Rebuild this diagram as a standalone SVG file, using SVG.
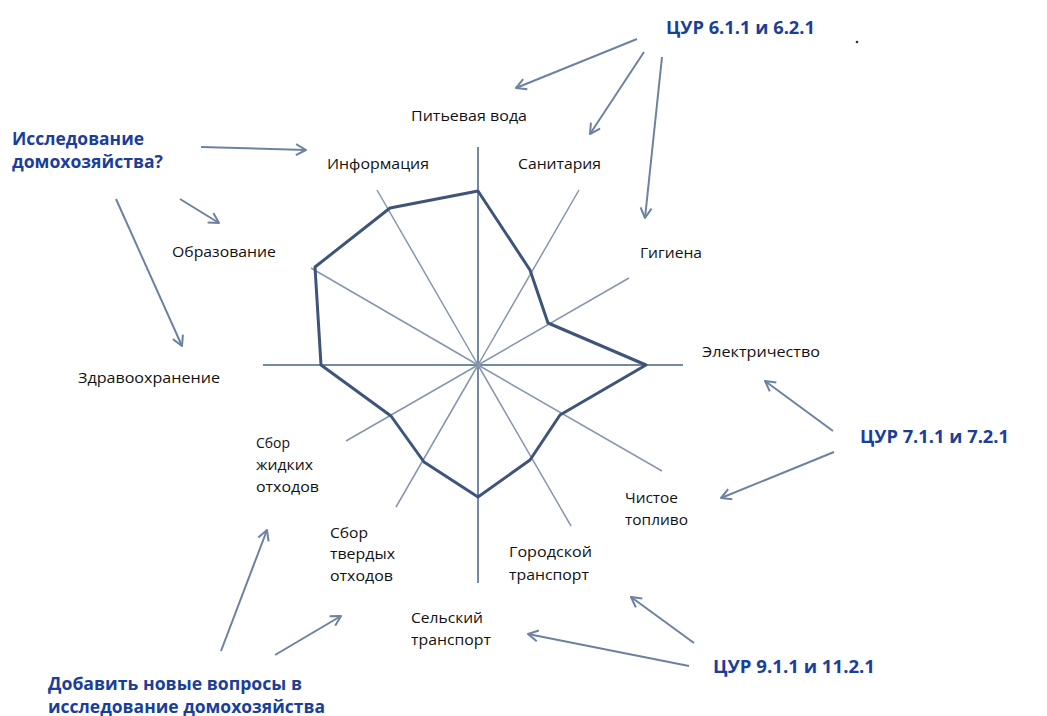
<svg xmlns="http://www.w3.org/2000/svg" width="1047" height="716" viewBox="0 0 1047 716">
<defs>
<style>
.lbl{font-family:"Open Sans","Liberation Sans",sans-serif;font-size:15px;fill:#111}
.blue{font-family:"Open Sans","Liberation Sans",sans-serif;font-size:17px;font-weight:bold;fill:#1a3e9a}
.spoke{stroke:#8596ac;stroke-width:1.5;fill:none}
.axis{stroke:#7489a3;stroke-width:2;fill:none}
.poly{stroke:#3e5479;stroke-width:3;fill:none;stroke-linejoin:round}
.arr{stroke:#6d82a1;stroke-width:2;fill:none;marker-end:url(#ah)}
</style>
<marker id="ah" markerUnits="userSpaceOnUse" viewBox="-12 -7 14 14" refX="0" refY="0" markerWidth="14" markerHeight="14" orient="auto">
<path d="M-10,-5.5 L0,0 L-10,5.5" fill="none" stroke="#6d82a1" stroke-width="2" stroke-linejoin="round"/>
</marker>
</defs>
<rect width="1047" height="716" fill="#fff"/>
<g id="radar">
<line class="axis" x1="478" y1="147" x2="478" y2="583"/>
<line class="axis" x1="263" y1="365" x2="683" y2="365"/>
<line class="spoke" x1="478" y1="365" x2="377" y2="190"/>
<line class="spoke" x1="478" y1="365" x2="579" y2="190"/>
<line class="spoke" x1="478" y1="365" x2="629" y2="278"/>
<line class="spoke" x1="478" y1="365" x2="311" y2="268"/>
<line class="spoke" x1="478" y1="365" x2="346" y2="441"/>
<line class="spoke" x1="478" y1="365" x2="396" y2="507"/>
<line class="spoke" x1="478" y1="365" x2="571" y2="526"/>
<line class="spoke" x1="478" y1="365" x2="662" y2="471"/>
<polygon class="poly" points="478,191 530,270 548,323 646,365 560,415 530,460 478,497 424,462 391,416 321,365 315,267 390,208"/>
</g>
<g id="n-water"><text class="lbl" x="411" y="121" textLength="116" lengthAdjust="spacingAndGlyphs">Питьевая вода</text></g>
<g id="n-info"><text class="lbl" x="327" y="169" textLength="102" lengthAdjust="spacingAndGlyphs">Информация</text></g>
<g id="n-sanit"><text class="lbl" x="518" y="169" textLength="83" lengthAdjust="spacingAndGlyphs">Санитария</text></g>
<g id="n-hyg"><text class="lbl" x="640" y="258" textLength="62" lengthAdjust="spacingAndGlyphs">Гигиена</text></g>
<g id="n-edu"><text class="lbl" x="172" y="257" textLength="104" lengthAdjust="spacingAndGlyphs">Образование</text></g>
<g id="n-elec"><text class="lbl" x="702" y="357" textLength="118" lengthAdjust="spacingAndGlyphs">Электричество</text></g>
<g id="n-health"><text class="lbl" x="78" y="383" textLength="142" lengthAdjust="spacingAndGlyphs">Здравоохранение</text></g>
<g id="n-liquid">
<text class="lbl" x="256" y="448" textLength="34" lengthAdjust="spacingAndGlyphs">Сбор</text>
<text class="lbl" x="256" y="470" textLength="57" lengthAdjust="spacingAndGlyphs">жидких</text>
<text class="lbl" x="256" y="492" textLength="63" lengthAdjust="spacingAndGlyphs">отходов</text>
</g>
<g id="n-fuel">
<text class="lbl" x="625" y="503" textLength="53" lengthAdjust="spacingAndGlyphs">Чистое</text>
<text class="lbl" x="625" y="525" textLength="63" lengthAdjust="spacingAndGlyphs">топливо</text>
</g>
<g id="n-solid">
<text class="lbl" x="330" y="538" textLength="38" lengthAdjust="spacingAndGlyphs">Сбор</text>
<text class="lbl" x="330" y="559" textLength="65" lengthAdjust="spacingAndGlyphs">твердых</text>
<text class="lbl" x="330" y="581" textLength="63" lengthAdjust="spacingAndGlyphs">отходов</text>
</g>
<g id="n-urban">
<text class="lbl" x="509" y="557" textLength="83" lengthAdjust="spacingAndGlyphs">Городской</text>
<text class="lbl" x="509" y="580" textLength="80" lengthAdjust="spacingAndGlyphs">транспорт</text>
</g>
<g id="n-rural">
<text class="lbl" x="411" y="623" textLength="72" lengthAdjust="spacingAndGlyphs">Сельский</text>
<text class="lbl" x="411" y="645" textLength="80" lengthAdjust="spacingAndGlyphs">транспорт</text>
</g>
<g id="src-sdg6"><text class="blue" x="666" y="34" textLength="149" lengthAdjust="spacingAndGlyphs">ЦУР 6.1.1 и 6.2.1</text></g>
<g id="src-survey">
<text class="blue" x="12" y="145" textLength="132" lengthAdjust="spacingAndGlyphs">Исследование</text>
<text class="blue" x="12" y="168" textLength="151" lengthAdjust="spacingAndGlyphs">домохозяйства?</text>
</g>
<g id="src-sdg7"><text class="blue" x="860" y="443" textLength="149" lengthAdjust="spacingAndGlyphs">ЦУР 7.1.1 и 7.2.1</text></g>
<g id="src-sdg9"><text class="blue" x="713" y="673" textLength="162" lengthAdjust="spacingAndGlyphs">ЦУР 9.1.1 и 11.2.1</text></g>
<g id="src-add">
<text class="blue" x="48" y="690" textLength="254" lengthAdjust="spacingAndGlyphs">Добавить новые вопросы в</text>
<text class="blue" x="48" y="713" textLength="277" lengthAdjust="spacingAndGlyphs">исследование домохозяйства</text>
</g>
<circle cx="857" cy="42" r="1.3" fill="#333"/>
<g id="connectors">
<line class="arr" x1="637" y1="39" x2="516" y2="88"/>
<line class="arr" x1="644" y1="52" x2="590" y2="134"/>
<line class="arr" x1="662" y1="57" x2="645" y2="218"/>
<line class="arr" x1="201" y1="147" x2="306" y2="150"/>
<line class="arr" x1="180" y1="199" x2="219" y2="223"/>
<line class="arr" x1="116" y1="199" x2="182" y2="346"/>
<line class="arr" x1="833" y1="431" x2="765" y2="381"/>
<line class="arr" x1="834" y1="452" x2="721" y2="498"/>
<line class="arr" x1="694" y1="643" x2="631" y2="597"/>
<line class="arr" x1="689" y1="666" x2="528" y2="634"/>
<line class="arr" x1="221" y1="651" x2="267" y2="530"/>
<line class="arr" x1="275" y1="655" x2="341" y2="616"/>
</g>
</svg>
